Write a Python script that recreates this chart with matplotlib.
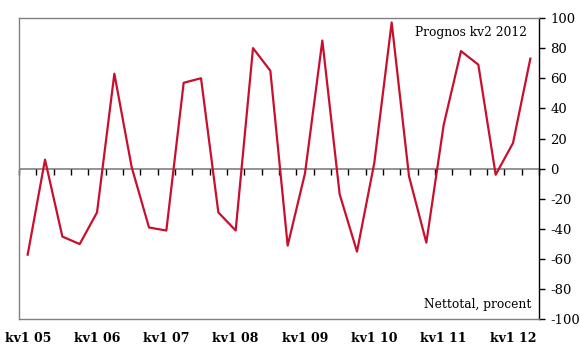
import numpy as np
import matplotlib
matplotlib.use("Agg")
import matplotlib.pyplot as plt

# Nettotal per kvartal, kv1 05 - kv2 12
quarters = [f"kv{q} {y:02d}" for y in range(5, 13) for q in range(1, 5)][:30]
values = [-57, 6, -45, -50, -29, 63, 1, -39, -41, 57, 60, -29, -41, 80, 65, -51,
          -3, 85, -17, -55, 4, 97, -5, -49, 29, 78, 69, -4, 17, 73]
tick_labels = ["kv1 05", "kv1 06", "kv1 07", "kv1 08", "kv1 09", "kv1 10", "kv1 11", "kv1 12"]
y_ticks = list(range(-100, 101, 20))

plt.rcParams["font.family"] = ["DejaVu Serif"]
plt.rcParams["axes.unicode_minus"] = False

fig = plt.figure(figsize=(5.8, 3.45), dpi=100)
ax = fig.add_axes([0.0328, 0.074, 0.8965, 0.874])

x = np.arange(len(values))
ax.plot(x, values, color="#c8102e", lw=1.6, zorder=3)

ax.set_xlim(-0.5, len(values) - 0.5)
ax.set_ylim(-100, 100)

# y axis on the right
ax.yaxis.tick_right()
ax.set_yticks(y_ticks)
ax.tick_params(axis="y", direction="out", length=4, width=1, colors="black",
               labelsize=9.5, pad=4.3)

# x labels at bottom, no tick marks
ax.set_xticks([quarters.index(t) for t in tick_labels])
ax.set_xticklabels(tick_labels, fontsize=9, fontweight="bold")
ax.tick_params(axis="x", length=0, pad=9)

for s in ["left", "top", "bottom"]:
    ax.spines[s].set_color("#808080")
    ax.spines[s].set_linewidth(1)
ax.spines["right"].set_color("black")
ax.spines["right"].set_linewidth(1)

# zero line with quarter ticks pointing down
ax.axhline(0, color="#808080", lw=1.2, zorder=2)
bounds = np.arange(-0.5, len(values), 1.0)
ax.plot(bounds, np.zeros_like(bounds), ls="none", marker=3, ms=4, mew=1,
        color="black", zorder=2, clip_on=False)

ax.text(0.977, 0.973, "Prognos kv2 2012", transform=ax.transAxes,
        ha="right", va="top", fontsize=8.8)
ax.text(0.985, 0.028, "Nettotal, procent", transform=ax.transAxes,
        ha="right", va="bottom", fontsize=8.8)

fig.savefig("out.png", dpi=100)
